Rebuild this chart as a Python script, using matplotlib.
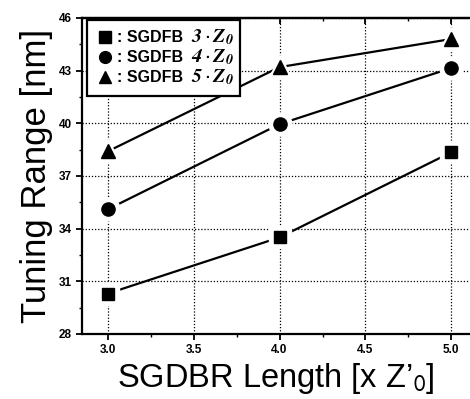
import matplotlib
matplotlib.use("Agg")
import matplotlib.pyplot as plt
from matplotlib.ticker import MultipleLocator, FixedLocator, FormatStrFormatter
from matplotlib.lines import Line2D

plt.rcParams['font.family'] = ['Liberation Sans', 'DejaVu Sans']
plt.rcParams['mathtext.fontset'] = 'stix'

lengths = [3.0, 4.0, 5.0]
range_3z0 = [30.3, 33.5, 38.35]
range_4z0 = [35.1, 39.95, 43.15]
range_5z0 = [38.4, 43.2, 44.8]
series_factors = ["3", "4", "5"]
y_ticks = [28, 31, 34, 37, 40, 43, 46]
markers = ['s', 'o', '^']
msizes = [9, 9.5, 10]

fig = plt.figure(figsize=(4.7, 3.99), dpi=100)
ax = fig.add_axes([0.1745, 0.163, 0.826, 0.792])

handles = []
for vals, mk, ms in zip([range_3z0, range_4z0, range_5z0], markers, msizes):
    ax.plot(lengths, vals, '-', color='black', lw=1.6, zorder=2)
    ax.plot(lengths, vals, linestyle='none', marker=mk, ms=ms + 7,
            color='white', mec='white', zorder=3)
    ax.plot(lengths, vals, linestyle='none', marker=mk, ms=ms,
            color='black', mec='black', zorder=4)
    handles.append(Line2D([], [], linestyle='none', marker=mk, ms=ms - 1,
                          color='black'))

ax.set_xlim(2.85, 5.11)
ax.set_ylim(28, 46)
ax.xaxis.set_major_locator(MultipleLocator(0.5))
ax.xaxis.set_minor_locator(MultipleLocator(0.25))
ax.yaxis.set_major_locator(FixedLocator(y_ticks))
ax.yaxis.set_minor_locator(FixedLocator([t + 1.5 for t in y_ticks[:-1]]))
ax.grid(True, which='major', color='black', linestyle=(0, (1, 1.5)), lw=0.9)
ax.set_axisbelow(True)

ax.spines['right'].set_visible(False)
for s in ['left', 'bottom', 'top']:
    ax.spines[s].set_linewidth(1.6)

ax.tick_params(axis='both', which='major', direction='out', length=4, width=1.3,
               labelsize=8.5)
ax.tick_params(axis='both', which='minor', direction='out', length=2.5, width=1.0)
ax.xaxis.set_major_formatter(FormatStrFormatter('%.1f'))
ax.yaxis.set_major_formatter(FormatStrFormatter('%d'))
for lab in ax.get_xticklabels() + ax.get_yticklabels():
    lab.set_fontweight('bold')

sec = ax.secondary_xaxis('top')
sec.xaxis.set_major_locator(MultipleLocator(0.5))
sec.xaxis.set_minor_locator(MultipleLocator(0.25))
sec.tick_params(which='major', direction='in', length=4, width=1.3, labeltop=False)
sec.tick_params(which='minor', direction='in', length=2.5, width=1.0)
sec.spines['top'].set_linewidth(1.6)

ax.set_ylabel("Tuning Range [nm]", fontsize=25, labelpad=4)
ax.set_xlabel("SGDBR Length [x Z\u2019$_\\mathsf{0}$]", fontsize=23.5, labelpad=3)

labels = [": SGDFB" for f in series_factors]
leg = ax.legend(handles, labels, loc='upper left',
                bbox_to_anchor=(0.013, 0.0, 0.394, 0.994), mode='expand',
                frameon=True, fancybox=False, edgecolor='black', framealpha=1,
                prop={'size': 11.5, 'weight': 'bold'}, handlelength=0.9,
                handletextpad=0.3, labelspacing=0.32, borderpad=0.65,
                borderaxespad=0.0)
leg.get_frame().set_linewidth(1.6)
leg.set_zorder(10)

fig.canvas.draw()
renderer = fig.canvas.get_renderer()
W, H = fig.bbox.width, fig.bbox.height
for t, f in zip(leg.get_texts(), series_factors):
    bb = t.get_window_extent(renderer)
    fig.text((bb.x1 + 8) / W, (bb.y0 + bb.y1) / 2 / H + 0.002,
             "$\\mathbfit{" + f + "}\\cdot\\mathbfit{Z}_\\mathbfit{0}$",
             ha='left', va='center', fontsize=14.5, zorder=12)

fig.savefig("out.png", dpi=100)
